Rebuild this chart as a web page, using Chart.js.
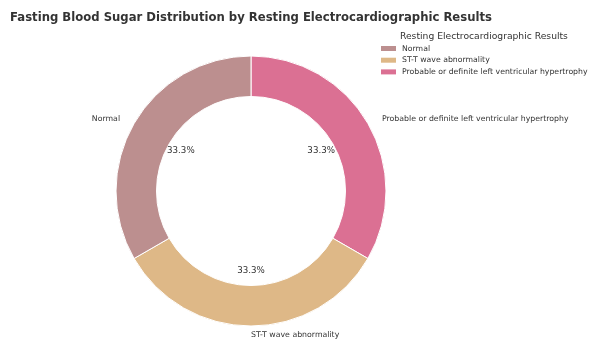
<!DOCTYPE html>
<html lang="en">
<head>
    <meta charset="UTF-8">
    <title>Fasting Blood Sugar Distribution by Resting Electrocardiographic Results</title>
    <script src="https://cdn.jsdelivr.net/npm/chart.js"></script>
    <style>
        body {
            margin: 0;
            padding: 0;
            background-color: #ffffff;
        }
        #wrap {
            width: 589px;
            height: 340px;
            position: relative;
        }
    </style>
</head>
<body>
    <div id="wrap"><canvas id="chart"></canvas></div>
    <script>
        // data, in legend order
        const categories = ['Normal', 'ST-T wave abnormality', 'Probable or definite left ventricular hypertrophy'];
        const counts = [1, 1, 1];
        const sliceColors = ['#bc8f8f', '#deb887', '#db7093'];
        const legendTitle = 'Resting Electrocardiographic Results';
        const chartTitle = 'Fasting Blood Sugar Distribution by Resting Electrocardiographic Results';

        const FONT = "'DejaVu Sans', sans-serif";

        // matplotlib goes counter-clockwise, Chart.js clockwise -> reverse the slices
        const chartLabels = categories.slice().reverse();
        const chartValues = counts.slice().reverse();
        const chartColors = sliceColors.slice().reverse();

        // labels outside the ring + percentages inside the hole
        const sliceLabels = {
            id: 'sliceLabels',
            afterDatasetsDraw(chart) {
                const ctx = chart.ctx;
                const meta = chart.getDatasetMeta(0);
                const data = chart.data.datasets[0].data;
                const total = data.reduce((a, b) => a + b, 0);
                ctx.save();
                ctx.fillStyle = '#333333';
                ctx.textBaseline = 'middle';
                meta.data.forEach((arc, i) => {
                    const p = arc.getProps(['x', 'y', 'startAngle', 'endAngle', 'outerRadius'], true);
                    const mid = (p.startAngle + p.endAngle) / 2;
                    const c = Math.cos(mid), s = Math.sin(mid);

                    // percentage
                    const rp = p.outerRadius * 0.6;
                    ctx.font = '8.7px ' + FONT;
                    ctx.textAlign = 'center';
                    ctx.fillText((data[i] / total * 100).toFixed(1) + '%', p.x + c * rp, p.y + s * rp * 0.99);

                    // category name
                    ctx.font = '7.8px ' + FONT;
                    ctx.textAlign = c > -1e-9 ? 'left' : 'right';
                    ctx.fillText(chart.data.labels[i], p.x + c * p.outerRadius * 1.12, p.y + s * p.outerRadius * 1.07);
                });
                ctx.restore();
            }
        };

        // legend box at the top right
        const sideLegend = {
            id: 'sideLegend',
            afterDraw(chart) {
                const ctx = chart.ctx;
                ctx.save();
                ctx.fillStyle = '#333333';
                ctx.textBaseline = 'middle';
                ctx.textAlign = 'left';
                ctx.font = '9.2px ' + FONT;
                ctx.fillText(legendTitle, 400, 36.5);

                ctx.font = '7.75px ' + FONT;
                categories.forEach((name, i) => {
                    const y = 48.5 + i * 11.7;
                    ctx.fillStyle = sliceColors[i];
                    ctx.fillRect(381, y - 2.5, 15, 5);
                    ctx.fillStyle = '#333333';
                    ctx.fillText(name, 402, y);
                });
                ctx.restore();
            }
        };

        new Chart(document.getElementById('chart').getContext('2d'), {
            type: 'doughnut',
            data: {
                labels: chartLabels,
                datasets: [{
                    data: chartValues,
                    backgroundColor: chartColors,
                    borderColor: '#ffffff',
                    borderWidth: 1,
                    hoverOffset: 0
                }]
            },
            options: {
                responsive: true,
                maintainAspectRatio: false,
                animation: false,
                radius: 135,
                cutout: '70%',
                layout: {
                    padding: { left: 10, right: 97, top: 0, bottom: 14.5 }
                },
                plugins: {
                    legend: { display: false },
                    tooltip: { enabled: false },
                    title: {
                        display: true,
                        text: chartTitle,
                        align: 'start',
                        color: '#333333',
                        font: { family: FONT, size: 12.5, weight: 'bold' },
                        padding: { top: 10, bottom: 31.5 }
                    }
                }
            },
            plugins: [sliceLabels, sideLegend]
        });
    </script>
</body>
</html>
